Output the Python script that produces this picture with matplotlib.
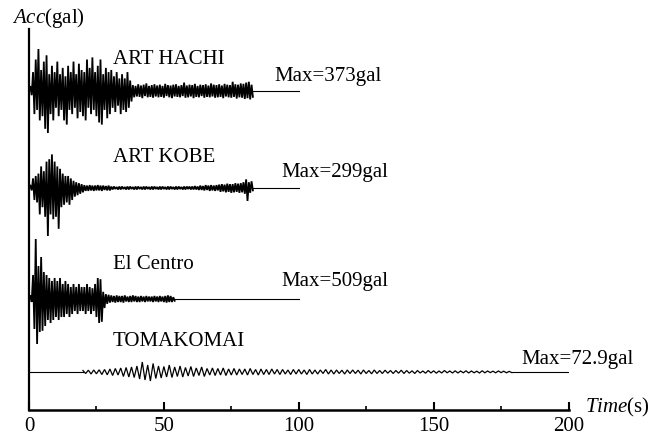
import numpy as np
import matplotlib
matplotlib.use('Agg')
import matplotlib.pyplot as plt

plt.rcParams['font.family'] = ['Liberation Serif', 'DejaVu Serif']
plt.rcParams['mathtext.fontset'] = 'custom'
plt.rcParams['mathtext.it'] = 'Liberation Serif:italic'
plt.rcParams['mathtext.rm'] = 'Liberation Serif'

# records, peak values (percent of each record's max, per time step)
names = ['ART HACHI', 'ART KOBE', 'El Centro', 'TOMAKOMAI']
max_gal = ['373', '299', '509', '72.9']

hachi_up = [10, 45, 75, 100, 50, 70, 85, 40, 60, 45,
            70, 40, 55, 35, 60, 45, 70, 40, 65, 50,
            45, 75, 55, 80, 45, 60, 75, 40, 55, 45,
            50, 35, 45, 30, 40, 30, 45, 25,
            14, 12, 16, 13, 15, 18, 12, 14, 16, 13,
            15, 12, 17, 14, 13, 15, 16, 12, 14, 20,
            13, 15, 14, 17, 12, 15, 14, 16, 13, 18,
            15, 14, 16, 13, 17, 15, 14, 22, 16, 15,
            18, 17, 20, 22, 15]
hachi_lo = [10, 55, 45, 70, 60, 90, 100, 55, 70, 40,
            60, 45, 70, 80, 45, 55, 40, 65, 50, 60,
            70, 40, 55, 45, 60, 75, 80, 45, 65, 55,
            40, 50, 35, 55, 45, 50, 40, 25,
            15, 13, 14, 17, 12, 15, 14, 16, 13, 15,
            14, 16, 12, 15, 17, 13, 14, 15, 12, 16,
            15, 13, 17, 14, 15, 12, 16, 14, 15, 13,
            16, 15, 14, 17, 13, 15, 16, 14, 18, 15,
            16, 19, 17, 20, 14]

kobe_up = [5, 20, 25, 30, 45, 35, 55, 60, 70, 55,
           45, 40, 30, 25, 25, 20, 15, 12, 10, 8,
           6, 5, 6, 5, 5, 6, 5, 5, 4, 5,
           3, 3, 2, 3, 3, 2, 3, 3, 2, 3,
           3, 2, 3, 3, 2, 3, 3, 2, 3, 3,
           2, 3, 3, 2, 3, 3, 2, 3, 3, 3,
           3, 4, 3, 5, 4, 6, 5, 6, 5, 6,
           7, 8, 7, 9, 8, 8, 10, 9, 10, 12,
           18, 12, 14]
kobe_lo = [5, 25, 30, 55, 40, 60, 100, 55, 65, 60,
           85, 40, 35, 30, 35, 25, 18, 15, 12, 9,
           6, 6, 5, 6, 5, 5, 6, 4, 5, 5,
           3, 2, 3, 3, 2, 3, 3, 2, 3, 3,
           2, 3, 3, 2, 3, 3, 2, 3, 3, 2,
           3, 3, 2, 3, 3, 2, 3, 3, 2, 3,
           3, 3, 4, 4, 5, 4, 6, 5, 6, 5,
           8, 7, 9, 8, 10, 9, 8, 10, 9, 12,
           27, 10, 5]

centro_up = [5, 40, 100, 55, 70, 45, 40, 35, 30, 35,
             30, 35, 25, 30, 25, 20, 25, 20, 25, 20,
             20, 25, 20, 18, 25, 35, 33, 12, 8, 7,
             6, 5, 6, 5, 5, 6, 4, 5, 6, 5,
             4, 5, 4, 5, 4, 4, 5, 4, 5, 4,
             5, 6, 5, 3]
centro_lo = [5, 50, 75, 55, 53, 45, 35, 40, 35, 30,
             35, 30, 30, 25, 30, 25, 20, 25, 20, 20,
             25, 20, 25, 20, 30, 40, 38, 15, 8, 6,
             5, 6, 5, 5, 6, 4, 5, 5, 4, 5,
             5, 4, 5, 4, 4, 5, 4, 5, 4, 5,
             6, 5, 5, 3]

toma_up = [15, 18, 20, 22, 25, 30, 35, 40, 45, 50,
           60, 100, 70, 85, 60, 55, 70, 50, 60, 45,
           55, 40, 50, 35, 40, 35, 40, 30, 35, 30,
           30, 35, 25, 30, 25, 30, 25, 25, 20, 25,
           25, 20, 25, 20, 20, 25, 20, 20, 18, 20,
           20, 18, 20, 15, 20, 15, 18, 15, 15, 18,
           15, 12, 15, 10, 15, 12, 10, 15, 10, 12,
           10, 12, 10, 8, 12, 10, 8, 10, 8, 6]
toma_lo = [15, 20, 18, 25, 28, 35, 30, 45, 50, 55,
           70, 80, 90, 65, 60, 50, 55, 45, 50, 40,
           45, 35, 45, 30, 35, 30, 35, 30, 30, 25,
           30, 25, 30, 25, 25, 20, 25, 20, 25, 20,
           20, 25, 20, 20, 15, 20, 20, 15, 20, 15,
           15, 20, 15, 18, 15, 15, 12, 15, 12, 15,
           12, 15, 10, 12, 10, 12, 10, 8, 10, 10,
           8, 10, 8, 10, 8, 6, 8, 6, 8, 6]

ups = [hachi_up, kobe_up, centro_up, toma_up]
los = [hachi_lo, kobe_lo, centro_lo, toma_lo]
t_start = [0.5, 0.5, 0.5, 20]
t_step = [1, 1, 1, 2]

# layout (vertical units = pixels above x axis)
base = [319, 222, 111, 38]
full_px = [42, 48, 60, 10]
line_end = [100, 100, 100, 200]
name_y = [351, 253, 146, 69]
max_pos = [(91.1, 334), (93.7, 238), (93.7, 129), (182.6, 51)]
trace_lw = [1.3, 1.3, 1.3, 0.9]


def zigzag(t0, step, up, lo):
    t = t0 + step * np.arange(len(up))
    tt = np.column_stack([t, t + step / 2]).ravel()
    vv = np.column_stack([up, -np.array(lo)]).ravel()
    return tt, vv


fig = plt.figure(figsize=(6.63, 4.39), dpi=100)
ax = fig.add_axes([29 / 663, 28 / 439, 539.5 / 663, 381 / 439])

for i in range(4):
    tt, vv = zigzag(t_start[i], t_step[i], ups[i], los[i])
    y = base[i] + vv / 100 * full_px[i]
    ax.plot(tt, y, color='black', lw=trace_lw[i], solid_joinstyle='miter')
    ax.plot([tt[-1], line_end[i]], [base[i], base[i]], color='black', lw=0.8)
    if t_start[i] > 1:
        ax.plot([0, tt[0]], [base[i], base[i]], color='black', lw=0.8)
    ax.text(31, name_y[i], names[i], fontsize=15, va='center', ha='left')
    ax.text(max_pos[i][0], max_pos[i][1], 'Max=' + max_gal[i] + 'gal',
            fontsize=15, va='center', ha='left')

ax.set_xlim(0, 200)
ax.set_ylim(0, 381)
ax.spines['top'].set_visible(False)
ax.spines['right'].set_visible(False)
ax.spines['left'].set_linewidth(1.6)
ax.spines['bottom'].set_linewidth(1.8)
ax.set_yticks([])
ax.set_xticks([0, 50, 100, 150, 200])
ax.set_xticks([25, 75, 125, 175], minor=True)
ax.tick_params(axis='x', which='major', direction='in', length=6, width=1.5,
               labelsize=15, pad=4)
ax.tick_params(axis='x', which='minor', direction='in', length=3, width=1.2)

fig.text(12 / 663, 1 - 18 / 439, r'$\mathit{Acc}$(gal)', fontsize=15,
         ha='left', va='center')
fig.text(585 / 663, 1 - 407 / 439, r'$\mathit{Time}$(s)', fontsize=15,
         ha='left', va='center')

fig.savefig('out.png', dpi=100)
